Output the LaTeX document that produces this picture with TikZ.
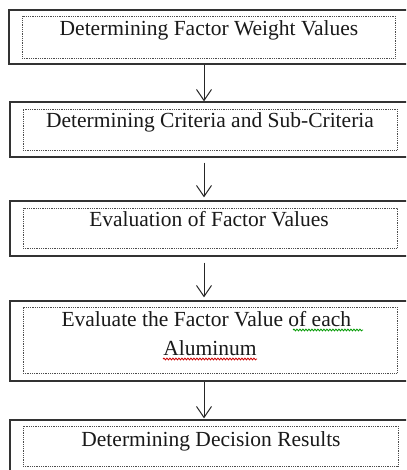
\documentclass[tikz,border=0pt]{standalone}
\usepackage{fontspec}
\setmainfont{Liberation Serif}
\usetikzlibrary{arrows.meta,decorations.pathmorphing}
\begin{document}
\begin{tikzpicture}[x=1pt,y=-1pt,
  outerbox/.style={draw=black!80,line width=1.3pt,rectangle,inner sep=0pt},
  innerbox/.style={draw=black!70,line width=0.9pt,dash pattern=on 0.9pt off 0.9pt,rectangle,inner sep=0pt},
  label/.style={font=\fontsize{21.5}{29}\selectfont,text=black!90,anchor=base,inner sep=0pt,align=center},
  arr/.style={draw=black!85,line width=1pt,-{Straight Barb[length=11pt,width=15pt,line width=1pt]}},
  wavy/.style={decorate,decoration={snake,amplitude=0.9pt,segment length=3pt},line width=0.8pt}]
\useasboundingbox (0,0) rectangle (406,470);
\clip (0,0) rectangle (406,470);
\fill[white] (0,0) rectangle (406,470);
% outer boxes
\node[outerbox,minimum width=410pt,minimum height=54pt] (o1) at (214,37) {};
\node[outerbox,minimum width=410pt,minimum height=55pt] (o2) at (215,129.5) {};
\node[outerbox,minimum width=410pt,minimum height=55pt] (o3) at (215,228.5) {};
\node[outerbox,minimum width=410pt,minimum height=80pt] (o4) at (215,341) {};
\node[outerbox,minimum width=410pt,minimum height=55pt] (o5) at (215,447.5) {};
% inner dotted boxes
\node[innerbox,minimum width=373pt,minimum height=42pt] (i1) at (208.5,37) {};
\node[innerbox,minimum width=374pt,minimum height=41pt] (i2) at (210,129.5) {};
\node[innerbox,minimum width=374pt,minimum height=40pt] (i3) at (210,228) {};
\node[innerbox,minimum width=374pt,minimum height=66pt] (i4) at (210,340) {};
\node[innerbox,minimum width=375pt,minimum height=40pt] (i5) at (210.5,446) {};
% texts
\node[label] (t1) at (209,35.5) {Determining Factor Weight Values};
\node[label] (t2) at (210,127.5) {Determining Criteria and Sub-Criteria};
\node[label] (t3) at (209,226.5) {Evaluation of Factor Values};
\node[label] (t4) at (209,326.5) {Evaluate the Factor Value of each };
\node[label] (t4b) at (210,355.5) {Aluminum};
\node[label] (t5) at (211,446.5) {Determining Decision Results};
% spell-check underlines
\draw[wavy,draw=green!60!black] (293,330) -- (363,330);
\draw[wavy,draw=red!80!black] (163,359) -- (257,359);
% arrows
\coordinate (ax) at (204,0);
\draw[arr] (o1.south -| ax) -- (o2.north -| ax);
\draw[arr,shorten <=5pt,shorten >=3pt] (o2.south -| ax) -- (o3.north -| ax);
\draw[arr,shorten <=6pt,shorten >=3pt] (o3.south -| ax) -- (o4.north -| ax);
\draw[arr,shorten >=1pt] (o4.south -| ax) -- (o5.north -| ax);
\end{tikzpicture}
\end{document}
